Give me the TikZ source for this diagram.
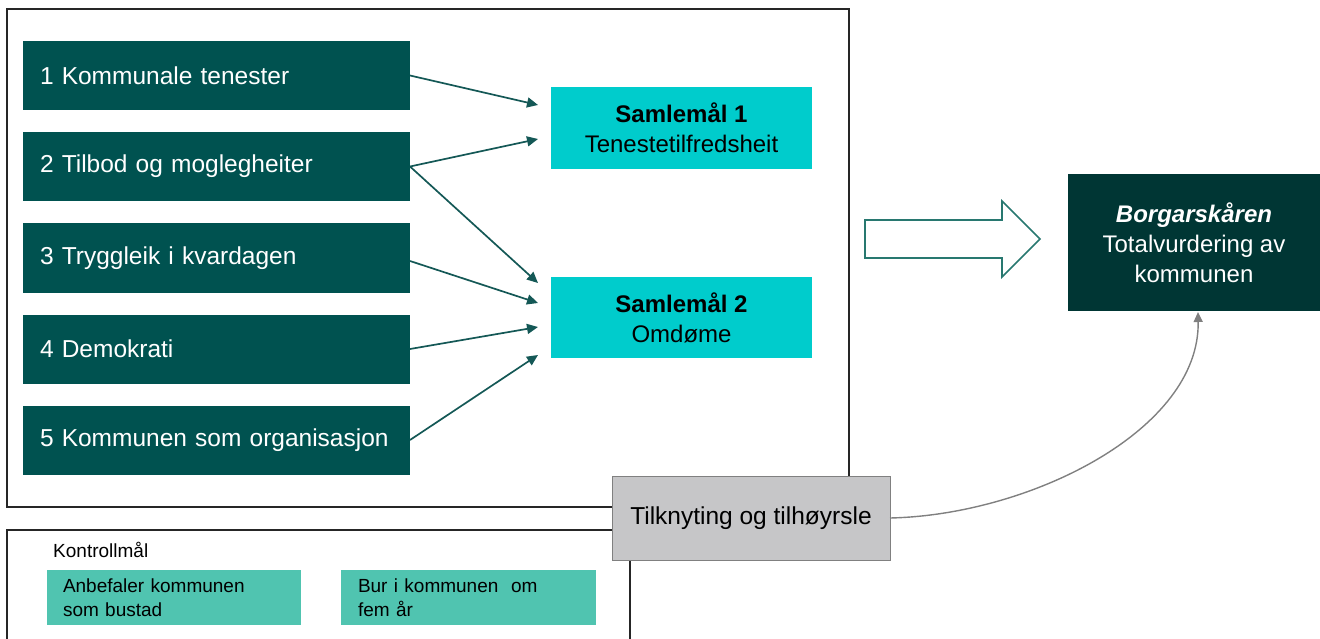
\documentclass[tikz,border=0pt]{standalone}
\usepackage{fontspec}
\setmainfont{Liberation Sans}
\usetikzlibrary{arrows.meta}
\definecolor{dteal}{RGB}{0,82,80}
\definecolor{cyanbox}{RGB}{0,204,204}
\definecolor{borgar}{RGB}{0,54,52}
\definecolor{kbox}{RGB}{80,196,176}
\definecolor{arrteal}{RGB}{20,88,86}
\definecolor{blockteal}{RGB}{40,120,112}
\definecolor{greybox}{RGB}{198,198,200}
\definecolor{greyline}{RGB}{128,128,128}
\definecolor{frame}{RGB}{38,38,38}
\tikzset{
  mainbox/.style={fill=dteal, text=white, inner sep=0pt, inner xsep=17pt, outer sep=0pt,
    text width=353pt, minimum height=69pt, align=left, font=\fontsize{24.5}{30}\selectfont},
  sambox/.style={fill=cyanbox, text=black, inner sep=0pt, outer sep=0pt,
    minimum width=261pt, minimum height=82pt, align=center, font=\fontsize{24}{30}\selectfont},
  kontbox/.style={fill=kbox, text=black, inner sep=0pt, inner xsep=16pt, outer sep=0pt,
    text width=222pt, minimum height=55pt, align=left, font=\fontsize{19}{24}\selectfont},
  conn/.style={draw=arrteal, line width=1.7pt, -{Triangle[length=11pt,width=10pt]}},
  framel/.style={draw=frame, line width=1.6pt}
}
\begin{document}
\begin{tikzpicture}[x=1pt,y=-1pt]
\useasboundingbox (0,0) rectangle (1320,639);
% frames
\draw[framel] (7,9) rectangle (849,507);
\draw[framel] (7,639) -- (7,530) -- (630,530) -- (630,639);
% left boxes
\node[mainbox] (b1) at (216.5,75.5) {1 Kommunale tenester};
\node[mainbox] (b2) at (216.5,166.5) {2 Tilbod og moglegheiter};
\node[mainbox] (b3) at (216.5,258) {3 Tryggleik i kvardagen};
\node[mainbox] (b4) at (216.5,349) {4 Demokrati};
\node[mainbox] (b5) at (216.5,440) {5 Kommunen som organisasjon};
% samlemaal
\node[sambox] (s1) at (681.5,128) {\textbf{Samlemål 1}\\Tenestetilfredsheit};
\node[sambox, minimum height=81pt] (s2) at (681.5,317.5) {\textbf{Samlemål 2}\\Omdøme};
% arrow end points
\coordinate (t1) at (538,105);
\coordinate (t2) at (538,139);
\coordinate (t3) at (538,283);
\coordinate (t4) at (538,303);
\coordinate (t5) at (538,327);
\coordinate (t6) at (538,355);
\draw[conn] (b1.east) -- (t1);
\draw[conn] (b2.east) -- (t2);
\draw[conn] (b2.east) -- (t3);
\draw[conn] ([yshift=-3pt]b3.east) -- (t4);
\draw[conn] (b4.east) -- (t5);
\draw[conn] (b5.east) -- (t6);
% block arrow
\draw[draw=blockteal, fill=white, line width=1.6pt, line join=miter]
  (865,220) -- (1002,220) -- (1002,201) -- (1040,239) -- (1002,277) -- (1002,258) -- (865,258) -- cycle;
% Borgarskaaren
\node[fill=borgar, text=white, inner sep=0pt, outer sep=0pt, minimum width=252pt, minimum height=137pt,
  align=center, font=\fontsize{24}{30}\selectfont] (bg) at (1194,242.5)
  {\textbf{\textit{Borgarskåren}}\\Totalvurdering av\\kommunen};
% Tilknyting
\node[fill=greybox, draw=greyline, line width=1pt, inner sep=0pt, outer sep=0pt, minimum width=278pt,
  minimum height=84pt, font=\fontsize{24.5}{30}\selectfont] (tk) at (751,518) {Tilknyting og tilhøyrsle};
\coordinate (bgin) at (1198,312);
\draw[draw=greyline, line width=1.4pt, -{Triangle[length=10pt,width=9pt]}]
  (tk.east) .. controls (1030,515) and (1200,430) .. (bgin);
% Kontrollmaal
\node[anchor=base west, inner sep=0pt, font=\fontsize{19}{24}\selectfont] (kl) at (53,557) {Kontrollmål};
\node[kontbox] (k1) at (174,597.5) {Anbefaler kommunen\\som bustad};
\node[kontbox, inner xsep=17pt, text width=221pt] (k2) at (468.5,597.5) {Bur i kommunen\ \ om\\fem år};
\end{tikzpicture}
\end{document}
